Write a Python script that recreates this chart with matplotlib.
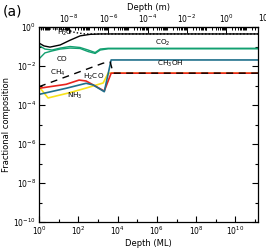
import matplotlib
matplotlib.use('Agg')
import matplotlib.pyplot as plt
from matplotlib.ticker import LogLocator, FixedLocator, NullFormatter

plt.rcParams['font.family'] = 'DejaVu Sans'

# depth in monolayers, fractional composition
x_end = 1.4e11

h2o_x = [1, 1.8, 3.6, 12, 38, 123, 400, 1300, x_end]
h2o_y = [0.15, 0.107, 0.093, 0.12, 0.21, 0.35, 0.42, 0.44, 0.44]

h2o_dot_x = [1, 12, 27, 69, 220, x_end]
h2o_dot_y = [0.79, 0.79, 0.70, 0.52, 0.44, 0.44]

co2_x = [1, 2, 4.6, 12, 38, 123, 316, 720, 1300, 3300, x_end]
co2_y = [0.112, 0.074, 0.066, 0.083, 0.1, 0.089, 0.066, 0.049, 0.074, 0.081, 0.081]

co_x = [1, 2, 4.6, 12, 38, 123, 316, 720, 1300, 3300, x_end]
co_y = [0.023, 0.047, 0.059, 0.074, 0.083, 0.079, 0.055, 0.044, 0.066, 0.076, 0.076]

ch3oh_x = [1, 24, 250, 570, 2100, 4700, x_end]
ch3oh_y = [3.5e-4, 7.2e-4, 1.3e-3, 1.07e-3, 4.8e-4, 0.0204, 0.0204]

h2co_x = [1, 24, 110, 250, 2100, 4700, x_end]
h2co_y = [7.2e-4, 1.15e-3, 1.9e-3, 1.7e-3, 5.2e-4, 4.3e-3, 4.3e-3]

nh3_x = [1, 2.9, 34, 250, 1850, 3300, x_end]
nh3_y = [8.7e-4, 2.3e-4, 4.2e-4, 7.4e-4, 1.35e-3, 4.3e-3, 4.3e-3]

ch4_x = [1, 1850, 4200, 6000, x_end]
ch4_y = [8.7e-4, 0.014, 0.016, 4.3e-3, 4.3e-3]

ml_thick = 3e-10  # metres per monolayer

green = '#12a070'
teal = '#1f6f8b'
red = '#e8231d'
yellow = '#f7e21a'

fs = 5.5

fig = plt.figure(figsize=(2.66, 2.5), dpi=100)
ax = fig.add_axes([39/266, 28/250, 219/266, 195/250])

ax.plot(nh3_x, nh3_y, color=yellow, lw=1.2)
ax.plot(h2co_x, h2co_y, color=red, lw=1.2)
ax.plot(ch3oh_x, ch3oh_y, color=teal, lw=1.2)
ax.plot(co_x, co_y, color=green, lw=1.0)
ax.plot(co2_x, co2_y, color=green, lw=1.0)
ax.plot(ch4_x, ch4_y, color='black', lw=1.0, ls=(0, (5, 4)))
ax.plot(h2o_dot_x, h2o_dot_y, color='black', lw=1.0, ls=(0, (1, 1.5)))
ax.plot(h2o_x, h2o_y, color='black', lw=1.0)

ax.set_xscale('log')
ax.set_yscale('log')
ax.set_xlim(1, x_end)
ax.set_ylim(1e-10, 1)

ax.xaxis.set_major_locator(FixedLocator([10.0**k for k in range(0, 12, 2)]))
ax.xaxis.set_minor_locator(FixedLocator([10.0**k for k in range(1, 12, 2)]))
ax.xaxis.set_minor_formatter(NullFormatter())
ax.yaxis.set_major_locator(FixedLocator([10.0**k for k in range(-10, 1, 2)]))
ax.yaxis.set_minor_locator(FixedLocator([10.0**k for k in range(-9, 0, 2)]))
ax.yaxis.set_minor_formatter(NullFormatter())
ax.tick_params(which='both', direction='in', labelsize=fs, width=0.8, pad=2,
               bottom=True, left=True, right=True, top=False)
ax.tick_params(which='major', length=4)
ax.tick_params(which='minor', length=2.5)
for s in ax.spines.values():
    s.set_linewidth(0.9)

sec = ax.secondary_xaxis('top', functions=(lambda d: d * ml_thick, lambda m: m / ml_thick))
sec.xaxis.set_major_locator(FixedLocator([10.0**k for k in range(-10, 3, 2)]))
sec.xaxis.set_minor_locator(LogLocator(base=10, subs=[1, 2, 3, 4, 5, 6, 7, 8, 9], numticks=30))
sec.xaxis.set_minor_formatter(NullFormatter())
sec.tick_params(which='both', direction='in', labelsize=fs, width=0.7, pad=1.5)
sec.tick_params(which='major', length=4)
sec.tick_params(which='minor', length=2)
sec.set_xlabel('Depth (m)', fontsize=fs + 0.5, labelpad=2)
ax.text(1e2 / ml_thick, 1.5, r'$10^{2}$', fontsize=fs, ha='center', va='bottom', clip_on=False)

ax.set_xlabel('Depth (ML)', fontsize=fs + 0.5, labelpad=1.5)
ax.set_ylabel('Fractional composition', fontsize=fs + 0.5, labelpad=2)

lab = 5.2
ax.text(21, 0.5, r'H$_2$O', fontsize=lab, ha='center', va='center')
ax.text(1.9e6, 0.15, r'CO$_2$', fontsize=lab, ha='center', va='center')
ax.text(15, 0.023, 'CO', fontsize=lab, ha='center', va='center')
ax.text(4.8e6, 0.0126, r'CH$_3$OH', fontsize=lab, ha='center', va='center')
ax.text(9.3, 4.4e-3, r'CH$_4$', fontsize=lab, ha='center', va='center')
ax.text(570, 2.7e-3, r'H$_2$CO', fontsize=lab, ha='center', va='center')
ax.text(69, 2.9e-4, r'NH$_3$', fontsize=lab, ha='center', va='center')

fig.text(0.01, 0.955, '(a)', fontsize=10, ha='left', va='center')

fig.savefig('out.png', dpi=100)
